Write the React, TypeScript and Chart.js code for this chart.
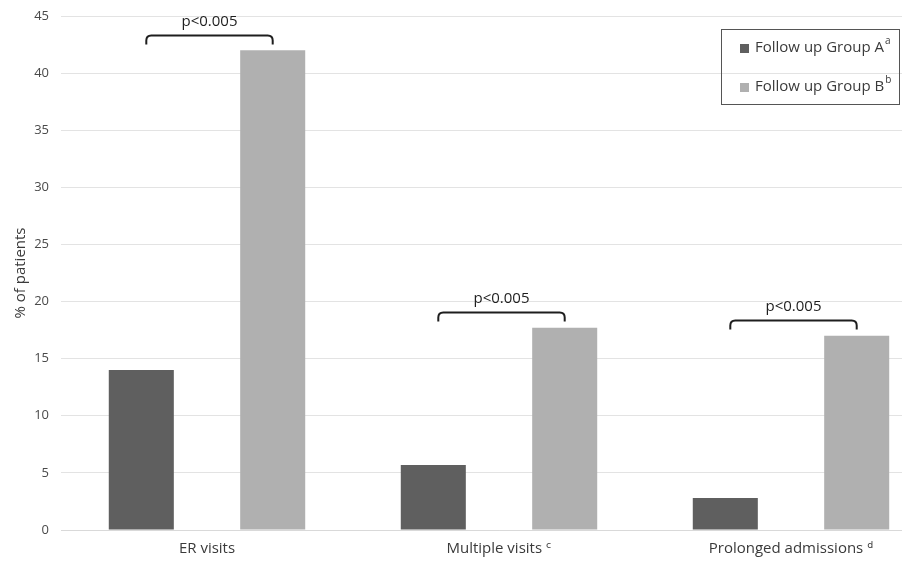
import React, { useEffect, useRef } from "react";
import { Chart, registerables } from "chart.js";

Chart.register(...registerables);

const categories = ["ER visits", "Multiple visits \u1D9C", "Prolonged admissions \u1D48"];
const groupA = [14, 5.7, 2.8];
const groupB = [42, 17.7, 17];
const bracketLevels = [43.35, 19.1, 18.4];
const bracketLabels = ["p<0.005", "p<0.005", "p<0.005"];
const legendLabels = ["Follow up Group A", "Follow up Group B"];
const legendSups = ["a", "b"];
const yTicksMax = 45;
const yStep = 5;

const colorA = "#5f5f5f";
const colorB = "#b0b0b0";
const FONT = "'Open Sans', 'DejaVu Sans', sans-serif";

const annotationPlugin = {
  id: "annotations",
  afterDraw(chart: any) {
    const ctx = chart.ctx;
    const y = chart.scales.y;
    const metaA = chart.getDatasetMeta(0);
    const metaB = chart.getDatasetMeta(1);
    ctx.save();
    for (let i = 0; i < categories.length; i++) {
      const x1 = metaA.data[i].x + 5;
      const x2 = metaB.data[i].x;
      const yy = Math.round(y.getPixelForValue(bracketLevels[i])) + 0.5;
      const depth = 9;
      const r = 5;
      ctx.beginPath();
      ctx.strokeStyle = "#1e1e1e";
      ctx.lineWidth = 2;
      ctx.moveTo(x1, yy + depth);
      ctx.lineTo(x1, yy + r);
      ctx.quadraticCurveTo(x1, yy, x1 + r, yy);
      ctx.lineTo(x2 - r, yy);
      ctx.quadraticCurveTo(x2, yy, x2, yy + r);
      ctx.lineTo(x2, yy + depth);
      ctx.stroke();
      ctx.fillStyle = "#1e1e1e";
      ctx.font = `15px ${FONT}`;
      ctx.textAlign = "center";
      ctx.textBaseline = "middle";
      ctx.fillText(bracketLabels[i], (x1 + x2) / 2, yy - 14);
    }
    const bx = 721.5, by = 29.5, bw = 178, bh = 75;
    ctx.strokeStyle = "#555555";
    ctx.lineWidth = 1;
    ctx.strokeRect(bx, by, bw, bh);
    const colors = [colorA, colorB];
    const rowsY = [48, 87];
    for (let i = 0; i < legendLabels.length; i++) {
      const cy = rowsY[i];
      ctx.fillStyle = colors[i];
      ctx.fillRect(740, cy - 4, 9, 9);
      ctx.fillStyle = "#3a3a3a";
      ctx.font = `15px ${FONT}`;
      ctx.textAlign = "left";
      ctx.textBaseline = "middle";
      ctx.fillText(legendLabels[i], 755, cy);
      const w = ctx.measureText(legendLabels[i]).width;
      ctx.font = `10px ${FONT}`;
      ctx.fillText(legendSups[i], 755 + w + 1, cy - 7);
    }
    ctx.restore();
  },
};

export default function App() {
  const canvasRef = useRef<HTMLCanvasElement | null>(null);

  useEffect(() => {
    document.body.style.margin = "0";
    document.body.style.overflow = "hidden";
    const canvas = canvasRef.current;
    if (!canvas) return;
    const chart = new Chart(canvas, {
      type: "bar",
      data: {
        labels: categories,
        datasets: [
          {
            label: legendLabels[0],
            data: groupA,
            backgroundColor: colorA,
            borderWidth: 0,
            categoryPercentage: 0.9,
            barPercentage: 0.495,
          },
          {
            label: legendLabels[1],
            data: groupB,
            backgroundColor: colorB,
            borderWidth: 0,
            categoryPercentage: 0.9,
            barPercentage: 0.495,
          },
        ],
      },
      options: {
        animation: false,
        responsive: false,
        maintainAspectRatio: false,
        layout: { padding: { top: 16, right: 3, left: 0, bottom: 0 } },
        plugins: {
          legend: { display: false },
          tooltip: { enabled: false },
        },
        scales: {
          x: {
            grid: { display: false, drawTicks: false },
            border: { display: true, color: "#d9d9d9", width: 1 },
            ticks: {
              color: "#3a3a3a",
              font: { family: FONT, size: 15 },
              padding: 10,
              maxRotation: 0,
            },
            afterFit(scale: any) {
              scale.height = 34;
            },
          },
          y: {
            min: 0,
            max: yTicksMax,
            ticks: {
              stepSize: yStep,
              color: "#4a4a4a",
              font: { family: FONT, size: 13 },
              padding: 4,
            },
            grid: {
              color: "#e3e3e3",
              drawTicks: true,
              tickLength: 8,
              tickColor: "rgba(0,0,0,0)",
              lineWidth: 1,
            },
            border: { display: false },
            title: {
              display: true,
              text: "% of patients",
              color: "#3a3a3a",
              font: { family: FONT, size: 15 },
              padding: { top: 12, bottom: 0 },
            },
            afterFit(scale: any) {
              scale.width = 61;
            },
          },
        },
      },
      plugins: [annotationPlugin],
    });
    return () => chart.destroy();
  }, []);

  return (
    <div style={{ position: "fixed", left: 0, top: 0, width: 902, height: 564, overflow: "hidden", background: "#fff" }}>
      <canvas ref={canvasRef} width={940} height={564} style={{ display: "block", width: 940, height: 564 }} />
    </div>
  );
}
